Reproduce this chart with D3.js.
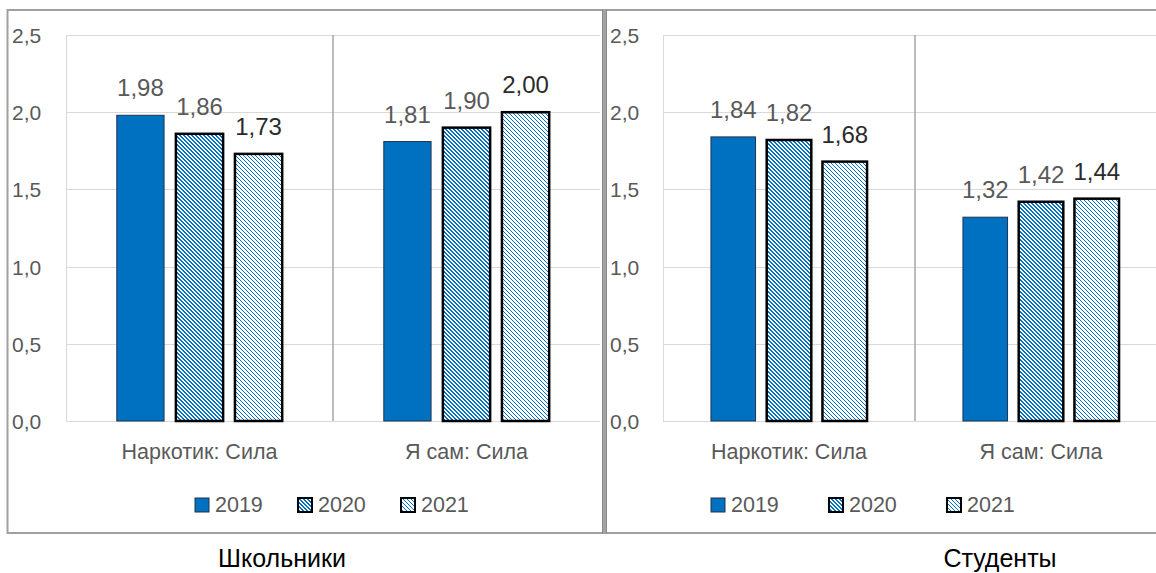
<!DOCTYPE html>
<html>
<head>
<meta charset="utf-8">
<script src="https://cdn.jsdelivr.net/npm/d3@7"></script>
<style>
  html, body { margin: 0; padding: 0; background: #fff; }
  svg { display: block; }
  text { font-family: "Liberation Sans", Arial, sans-serif; }
</style>
</head>
<body>
<svg id="chart" width="1156" height="573"></svg>
<script>
// Survey averages, "Сила" scale, by year
const years = ["2019", "2020", "2021"];
const categories = ["Наркотик: Сила", "Я сам: Сила"];
const panelTitles = ["Школьники", "Студенты"];

const school2019 = [1.98, 1.81];
const school2020 = [1.86, 1.90];
const school2021 = [1.73, 2.00];

const students2019 = [1.84, 1.32];
const students2020 = [1.82, 1.42];
const students2021 = [1.68, 1.44];

const yTicks = [0, 0.5, 1.0, 1.5, 2.0, 2.5];

const fmt = v => d3.format(".1f")(v).replace(".", ",");
const fmt2 = v => d3.format(".2f")(v).replace(".", ",");

const svg = d3.select("#chart");
const BLUE = "#0070C0";

// Diagonal hatch fills (down-diagonal, 4px repeat)
const defs = svg.append("defs");
function hatch(id, bands) {
  const p = defs.append("pattern")
    .attr("id", id)
    .attr("patternUnits", "userSpaceOnUse")
    .attr("width", 4).attr("height", 4);
  p.append("rect").attr("width", 4).attr("height", 4).attr("fill", "#fff");
  for (let yy = 0; yy < 4; yy++) {
    for (let xx = 0; xx < 4; xx++) {
      if (bands.includes(((xx - yy) % 4 + 4) % 4)) {
        p.append("rect").attr("x", xx).attr("y", yy)
          .attr("width", 1).attr("height", 1)
          .attr("fill", BLUE).attr("shape-rendering", "crispEdges");
      }
    }
  }
}
hatch("dkDown", [0, 1]);
hatch("ltDown", [0]);

const seriesStyle = {
  "2019": { fill: BLUE, stroke: "#1c3550", sw: 1, label: "#595959" },
  "2020": { fill: "url(#dkDown)", stroke: "#000", sw: 2.5, label: "#595959" },
  "2021": { fill: "url(#ltDown)", stroke: "#000", sw: 2.5, label: "#2b2b2b" }
};

const y = d3.scaleLinear().domain([0, 2.5]).range([421, 35]);

const panels = [
  { title: panelTitles[0], values: [school2019, school2020, school2021],
    plotX: [66, 600], tickX: 12, legendX: 195, legendStep: 103, titleX: 282 },
  { title: panelTitles[1], values: [students2019, students2020, students2021],
    plotX: [663, 1167], tickX: 610, legendX: 711, legendStep: 118, titleX: 1000 }
];

// outer frame
svg.append("rect").attr("x", 7.5).attr("y", 10).attr("width", 1160).attr("height", 523)
  .attr("fill", "none").attr("stroke", "#a0a0a0").attr("stroke-width", 2);

panels.forEach(pn => {
  const g = svg.append("g");
  const x0 = d3.scaleBand().domain(categories).range(pn.plotX).padding(0);
  const x1 = d3.scaleBand().domain(years).range([0, x0.bandwidth()])
    .paddingInner(0.2).paddingOuter(0.86);

  // horizontal gridlines
  g.selectAll(".grid").data(yTicks).join("line")
    .attr("x1", pn.plotX[0]).attr("x2", pn.plotX[1])
    .attr("y1", d => Math.round(y(d)) + 0.5).attr("y2", d => Math.round(y(d)) + 0.5)
    .attr("stroke", "#d9d9d9").attr("stroke-width", 1);

  // plot left edge
  g.append("line")
    .attr("x1", pn.plotX[0] + 0.5).attr("x2", pn.plotX[0] + 0.5)
    .attr("y1", y(2.5)).attr("y2", y(0))
    .attr("stroke", "#d9d9d9");

  // category separators
  categories.slice(1).forEach(c => {
    g.append("line")
      .attr("x1", x0(c)).attr("x2", x0(c))
      .attr("y1", y(2.5)).attr("y2", y(0))
      .attr("stroke", "#a6a6a6").attr("stroke-width", 1.5);
  });

  // y tick labels
  g.selectAll(".tick").data(yTicks).join("text")
    .attr("x", pn.tickX).attr("y", d => y(d) + 8)
    .attr("font-size", 21).attr("fill", "#595959")
    .text(fmt);

  // bars
  years.forEach((yr, si) => {
    const st = seriesStyle[yr];
    const vals = pn.values[si];
    const bg = g.append("g");
    bg.selectAll("rect").data(categories).join("rect")
      .attr("x", (c) => x0(c) + x1(yr))
      .attr("y", (c, i) => y(vals[i]))
      .attr("width", x1.bandwidth())
      .attr("height", (c, i) => y(0) - y(vals[i]))
      .attr("fill", st.fill).attr("stroke", st.stroke).attr("stroke-width", st.sw);
    bg.selectAll("text").data(categories).join("text")
      .attr("x", c => x0(c) + x1(yr) + x1.bandwidth() / 2)
      .attr("y", (c, i) => y(vals[i]) - 19)
      .attr("text-anchor", "middle")
      .attr("font-size", 24).attr("fill", st.label)
      .text((c, i) => fmt2(vals[i]));
  });

  // category labels
  g.selectAll(".cat").data(categories).join("text")
    .attr("x", c => x0(c) + x0.bandwidth() / 2)
    .attr("y", 459)
    .attr("text-anchor", "middle")
    .attr("font-size", 21.5).attr("fill", "#595959")
    .text(c => c);

  // legend
  years.forEach((yr, si) => {
    const st = seriesStyle[yr];
    const lx = pn.legendX + si * pn.legendStep;
    g.append("rect")
      .attr("x", lx).attr("y", 498).attr("width", 14).attr("height", 14)
      .attr("fill", st.fill).attr("stroke", st.stroke)
      .attr("stroke-width", si === 0 ? 1 : 2);
    g.append("text")
      .attr("x", lx + 20).attr("y", 512)
      .attr("font-size", 21.5).attr("fill", "#595959")
      .text(yr);
  });

  // panel caption
  svg.append("text")
    .attr("x", pn.titleX).attr("y", 567)
    .attr("text-anchor", "middle")
    .attr("font-size", 25).attr("fill", "#000")
    .text(pn.title);
});

// divider between panels
svg.append("rect").attr("x", 602).attr("y", 9).attr("width", 5).attr("height", 525)
  .attr("fill", "#a3a3a3");
svg.append("line").attr("x1", 602.5).attr("x2", 602.5).attr("y1", 9).attr("y2", 534)
  .attr("stroke", "#8a8a8a");
svg.append("line").attr("x1", 606.5).attr("x2", 606.5).attr("y1", 9).attr("y2", 534)
  .attr("stroke", "#8a8a8a");
</script>
</body>
</html>
